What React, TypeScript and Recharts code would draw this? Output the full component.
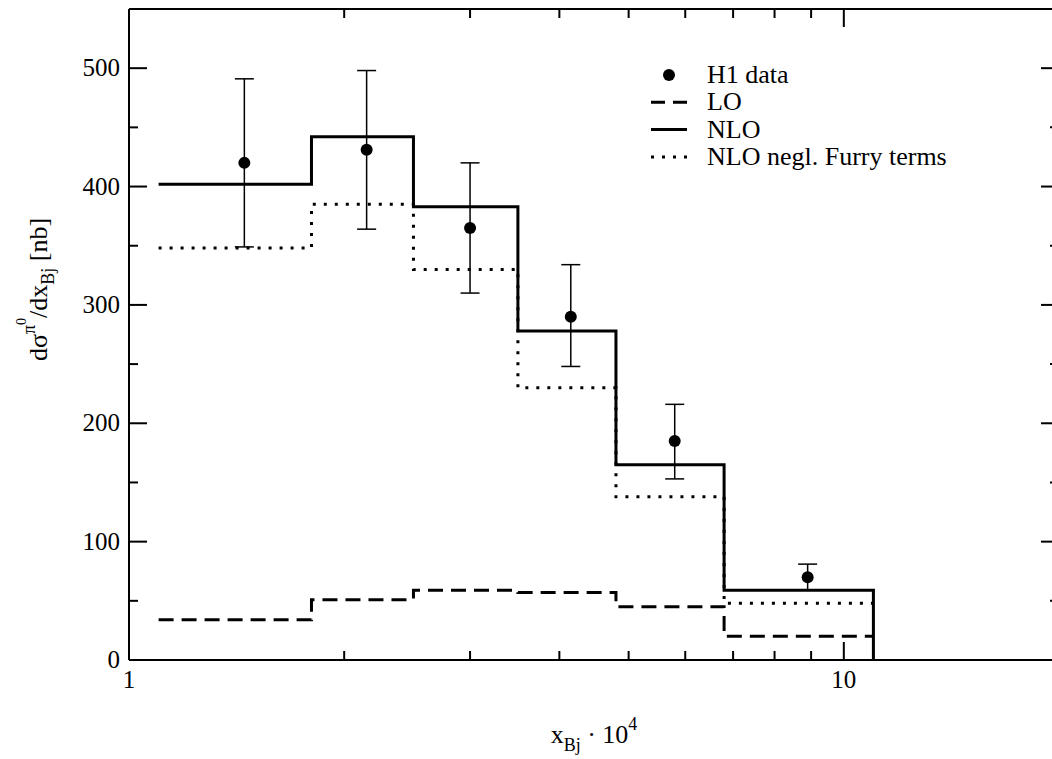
import React from "react";
import { ComposedChart, ErrorBar, Legend, Line, Scatter, XAxis, YAxis, Label } from "recharts";

// bin edges in x_Bj * 10^4
const binEdges = [1.1, 1.8, 2.5, 3.5, 4.8, 6.8, 11];
const loValues = [34, 51, 59, 57, 45, 20];
const nloValues = [402, 442, 383, 278, 165, 59];
const nloFurryValues = [348, 385, 330, 230, 138, 48];

// H1 data points
const h1X = [1.45, 2.15, 3.0, 4.15, 5.8, 8.9];
const h1Y = [420, 431, 365, 290, 185, 70];
const h1Low = [349, 364, 310, 248, 153, 59];
const h1High = [491, 498, 420, 334, 216, 81];

const xTicks = [1, 2, 3, 4, 5, 6, 7, 8, 9, 10];
const xMajor = [1, 10];
const yTicks = [0, 50, 100, 150, 200, 250, 300, 350, 400, 450, 500];

const FONT = "'Liberation Serif', 'Times New Roman', serif";

function steps(vals: number[], dropToZero: boolean) {
  return binEdges.map((x, i) => ({
    x,
    y: i < vals.length ? vals[i] : dropToZero ? 0 : vals[vals.length - 1],
  }));
}

const loData = steps(loValues, false);
const nloData = steps(nloValues, true);
const furryData = steps(nloFurryValues, false);
const h1Data = h1X.map((x, i) => ({ x, y: h1Y[i], err: [h1Y[i] - h1Low[i], h1High[i] - h1Y[i]] }));

const BottomTick = (p: any) => {
  const major = xMajor.includes(p.payload.value);
  return (
    <g>
      <line x1={p.x} y1={p.y} x2={p.x} y2={p.y - (major ? 18 : 9)} stroke="#000" strokeWidth={2} />
      {major && (
        <text x={p.x} y={p.y + 28} textAnchor="middle" fontSize={25} fontFamily={FONT} fill="#000">
          {p.payload.value}
        </text>
      )}
    </g>
  );
};

const TopTick = (p: any) => {
  const major = xMajor.includes(p.payload.value);
  return <line x1={p.x} y1={p.y} x2={p.x} y2={p.y + (major ? 18 : 9)} stroke="#000" strokeWidth={2} />;
};

const LeftTick = (p: any) => {
  const major = p.payload.value % 100 === 0;
  return (
    <g>
      <line x1={p.x} y1={p.y} x2={p.x + (major ? 18 : 9)} y2={p.y} stroke="#000" strokeWidth={2} />
      {major && (
        <text x={p.x - 9} y={p.y + 8} textAnchor="end" fontSize={25} fontFamily={FONT} fill="#000">
          {p.payload.value}
        </text>
      )}
    </g>
  );
};

const RightTick = (p: any) => {
  const major = p.payload.value % 100 === 0;
  return <line x1={p.x} y1={p.y} x2={p.x - (major ? 18 : 9)} y2={p.y} stroke="#000" strokeWidth={2} />;
};

const YLabel = (props: any) => {
  const vb = props.viewBox;
  const lx = vb.x - 22;
  const cy = vb.y + vb.height / 2 - 45;
  return (
    <text
      x={lx}
      y={cy}
      transform={`rotate(-90 ${lx} ${cy})`}
      textAnchor="middle"
      fontSize={26}
      fontFamily={FONT}
      fill="#000"
    >
      dσ
      <tspan dy={-12} fontSize={18}>π</tspan>
      <tspan dy={-9} fontSize={14}>0</tspan>
      <tspan dy={21} fontSize={26}>/dx</tspan>
      <tspan dy={7} fontSize={18}>Bj</tspan>
      <tspan dy={-7} fontSize={26}> [nb]</tspan>
    </text>
  );
};

const XLabel = (props: any) => {
  const vb = props.viewBox;
  const cx = vb.x + vb.width / 2;
  return (
    <text x={cx} y={743} textAnchor="middle" fontSize={26} fontFamily={FONT} fill="#000">
      x
      <tspan dy={8} fontSize={18}>Bj</tspan>
      <tspan dy={-8} fontSize={26}> · 10</tspan>
      <tspan dy={-13} fontSize={18}>4</tspan>
    </text>
  );
};

const legendRows = [
  { label: "H1 data", kind: "dot" },
  { label: "LO", kind: "dash" },
  { label: "NLO", kind: "solid" },
  { label: "NLO negl. Furry terms", kind: "dotted" },
];

const LegendBox = () => (
  <svg width={360} height={120}>
    {legendRows.map((r, i) => {
      const y = 17 + i * 27.3;
      return (
        <g key={r.label}>
          {r.kind === "dot" && <circle cx={29} cy={y} r={6} fill="#000" />}
          {r.kind === "dash" && <line x1={11} y1={y} x2={47} y2={y} stroke="#000" strokeWidth={3} strokeDasharray="14 8" />}
          {r.kind === "solid" && <line x1={11} y1={y} x2={47} y2={y} stroke="#000" strokeWidth={3} />}
          {r.kind === "dotted" && <line x1={11} y1={y} x2={47} y2={y} stroke="#000" strokeWidth={3} strokeDasharray="3 8" />}
          <text x={67} y={y + 8} fontSize={26} fontFamily={FONT} fill="#000">
            {r.label}
          </text>
        </g>
      );
    })}
  </svg>
);

const DotShape = (p: any) => <circle cx={p.cx} cy={p.cy} r={6} fill="#000" />;

export default function App() {
  return (
    <div style={{ position: "absolute", left: 0, top: 0, width: 1052, height: 759, overflow: "hidden", background: "#fff" }}>
      <ComposedChart width={1080} height={759} margin={{ top: 8, right: 20, bottom: 59, left: 69 }}>
        <XAxis
          xAxisId="b"
          dataKey="x"
          type="number"
          scale="log"
          domain={[1, 20]}
          allowDataOverflow
          ticks={xTicks}
          interval={0}
          height={40}
          tickSize={0}
          tickMargin={0}
          tickLine={false}
          axisLine={{ stroke: "#000", strokeWidth: 2 }}
          tick={(p: any) => <BottomTick {...p} />}
        >
          <Label content={(p: any) => <XLabel {...p} />} />
        </XAxis>
        <XAxis
          xAxisId="t"
          orientation="top"
          dataKey="x"
          type="number"
          scale="log"
          domain={[1, 20]}
          allowDataOverflow
          ticks={xTicks}
          interval={0}
          height={1}
          tickSize={0}
          tickMargin={0}
          tickLine={false}
          axisLine={{ stroke: "#000", strokeWidth: 2 }}
          tick={(p: any) => <TopTick {...p} />}
        />
        <YAxis
          yAxisId="l"
          type="number"
          domain={[0, 550]}
          allowDataOverflow
          ticks={yTicks}
          interval={0}
          width={60}
          tickSize={0}
          tickMargin={0}
          tickLine={false}
          axisLine={{ stroke: "#000", strokeWidth: 2 }}
          tick={(p: any) => <LeftTick {...p} />}
        >
          <Label content={(p: any) => <YLabel {...p} />} />
        </YAxis>
        <YAxis
          yAxisId="r"
          orientation="right"
          type="number"
          domain={[0, 550]}
          allowDataOverflow
          ticks={yTicks}
          interval={0}
          width={1}
          tickSize={0}
          tickMargin={0}
          tickLine={false}
          axisLine={{ stroke: "#000", strokeWidth: 2 }}
          tick={(p: any) => <RightTick {...p} />}
        />
        <Legend
          layout="vertical"
          align="center"
          verticalAlign="middle"
          content={() => <LegendBox />}
          wrapperStyle={{ left: 640, top: 58, width: 360, height: 120 }}
        />
        <Line xAxisId="b" yAxisId="l" data={loData} dataKey="y" type="stepAfter" stroke="#000" strokeWidth={3}
          strokeDasharray="15 8" dot={false} activeDot={false} isAnimationActive={false} />
        <Line xAxisId="b" yAxisId="l" data={furryData} dataKey="y" type="stepAfter" stroke="#000" strokeWidth={3}
          strokeDasharray="3 8" dot={false} activeDot={false} isAnimationActive={false} />
        <Line xAxisId="b" yAxisId="l" data={nloData} dataKey="y" type="stepAfter" stroke="#000" strokeWidth={3}
          dot={false} activeDot={false} isAnimationActive={false} />
        <Scatter xAxisId="b" yAxisId="l" data={h1Data} dataKey="y" shape={DotShape} isAnimationActive={false}>
          <ErrorBar dataKey="err" direction="y" width={9.5} stroke="#000" strokeWidth={1.5} isAnimationActive={false} />
        </Scatter>
      </ComposedChart>
    </div>
  );
}
